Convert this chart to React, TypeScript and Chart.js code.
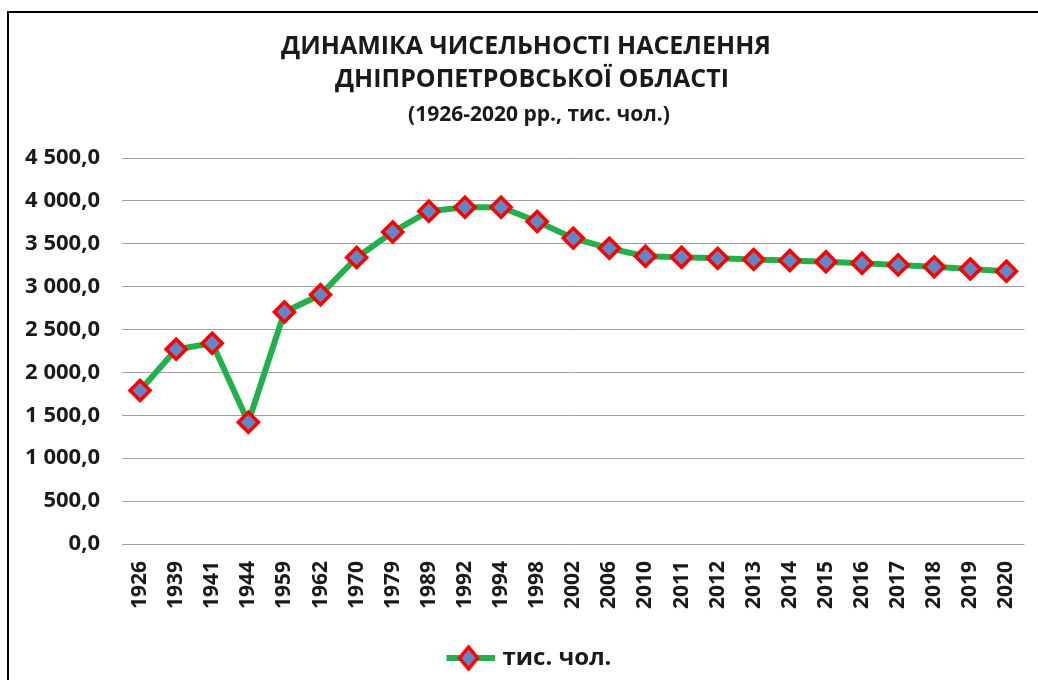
import React, { useEffect, useRef } from "react";
import { Chart, registerables } from "chart.js";

Chart.register(...registerables);

const years = ["1926","1939","1941","1944","1959","1962","1970","1979","1989","1992","1994","1998","2002","2006","2010","2011","2012","2013","2014","2015","2016","2017","2018","2019","2020"];
const population = [1790, 2270, 2340, 1420, 2705, 2905, 3340, 3638, 3880, 3926, 3926, 3760, 3566, 3447, 3355, 3344, 3330, 3318, 3305, 3290, 3274, 3254, 3231, 3206, 3180];
const seriesLabel = "тис. чол.";
const titleLines = ["ДИНАМІКА ЧИСЕЛЬНОСТІ НАСЕЛЕННЯ", "ДНІПРОПЕТРОВСЬКОЇ ОБЛАСТІ"];
const subtitleText = "(1926-2020 рр., тис. чол.)";

const FONT = "'Open Sans', 'Noto Sans', sans-serif";
const LINE_COLOR = "#22b04c";
const MARKER_FILL = "#6088c6";
const MARKER_BORDER = "#ff0000";

function fmt(v: number): string {
  const fixed = v.toFixed(1);
  const [intPart, dec] = fixed.split(".");
  const grouped = intPart.replace(/\B(?=(\d{3})+(?!\d))/g, " ");
  return grouped + "," + dec;
}

function makeLegendIcon(): HTMLCanvasElement {
  const c = document.createElement("canvas");
  c.width = 70;
  c.height = 28;
  const ctx = c.getContext("2d")!;
  ctx.strokeStyle = LINE_COLOR;
  ctx.lineWidth = 6;
  ctx.beginPath();
  ctx.moveTo(22, 14);
  ctx.lineTo(70, 14);
  ctx.stroke();
  const cx = 44;
  ctx.beginPath();
  ctx.moveTo(cx - 9, 14);
  ctx.lineTo(cx, 14 - 11);
  ctx.lineTo(cx + 9, 14);
  ctx.lineTo(cx, 14 + 11);
  ctx.closePath();
  ctx.fillStyle = MARKER_FILL;
  ctx.fill();
  ctx.strokeStyle = MARKER_BORDER;
  ctx.lineWidth = 3.5;
  ctx.stroke();
  return c;
}

const titlePlugin = {
  id: "customTitle",
  afterDraw(chart: any) {
    const ctx = chart.ctx as CanvasRenderingContext2D;
    ctx.save();
    ctx.fillStyle = "#1a1a1a";
    ctx.textAlign = "center";
    ctx.textBaseline = "middle";
    ctx.font = `bold 25px ${FONT}`;
    ctx.fillText(titleLines[0], 517, 34);
    ctx.fillText(titleLines[1], 523, 67);
    ctx.font = `bold 21px ${FONT}`;
    ctx.fillText(subtitleText, 530, 102);
    ctx.restore();
  },
};

export default function App() {
  const ref = useRef<HTMLCanvasElement | null>(null);
  useEffect(() => {
    if (!ref.current) return;
    const icon = makeLegendIcon();
    const chart = new Chart(ref.current, {
      type: "line",
      data: {
        labels: years,
        datasets: [
          {
            label: seriesLabel,
            data: population,
            borderColor: LINE_COLOR,
            borderWidth: 6,
            backgroundColor: MARKER_FILL,
            pointStyle: "rectRot",
            pointRadius: 10,
            pointBackgroundColor: MARKER_FILL,
            pointBorderColor: MARKER_BORDER,
            pointBorderWidth: 3.5,
            tension: 0,
          },
        ],
      },
      options: {
        responsive: false,
        animation: false,
        devicePixelRatio: 1,
        layout: { padding: { left: 0, right: 7, top: 145, bottom: 0 } },
        plugins: {
          title: { display: false },
          subtitle: { display: false },
          legend: {
            display: true,
            position: "bottom",
            labels: {
              usePointStyle: true,
              pointStyle: icon as any,
              pointStyleWidth: 62,
              boxHeight: 24,
              color: "#1a1a1a",
              font: { family: FONT, size: 24, weight: "bold" },
              padding: 10,
            },
          },
          tooltip: { enabled: false },
        },
        scales: {
          x: {
            type: "category",
            offset: true,
            grid: { display: false, drawTicks: false },
            border: { display: false },
            ticks: {
              color: "#1a1a1a",
              font: { family: FONT, size: 21, weight: "bold" },
              minRotation: 90,
              maxRotation: 90,
              padding: 17,
              autoSkip: false,
            },
            afterFit: (s: any) => {
              s.height = 92;
              s.paddingLeft = 0;
              s.paddingRight = 0;
            },
          },
          y: {
            min: 0,
            max: 4500,
            grid: { color: "#a0a0a0", lineWidth: 1, drawTicks: false },
            border: { display: false },
            ticks: {
              stepSize: 500,
              color: "#1a1a1a",
              font: { family: FONT, size: 22, weight: "bold" },
              padding: 22,
              callback: (v: any) => fmt(Number(v)),
            },
            afterFit: (s: any) => {
              s.width = 113;
            },
          },
        },
      },
      plugins: [titlePlugin],
    });
    return () => chart.destroy();
  }, []);

  return (
    <div
      style={{
        position: "fixed",
        left: 7,
        top: 11,
        width: 1060,
        height: 700,
        border: "2px solid #000",
        background: "#fff",
      }}
    >
      <canvas
        ref={ref}
        width={1029}
        height={667}
        style={{ position: "absolute", left: 0, top: 0, width: 1029, height: 667 }}
      />
    </div>
  );
}
